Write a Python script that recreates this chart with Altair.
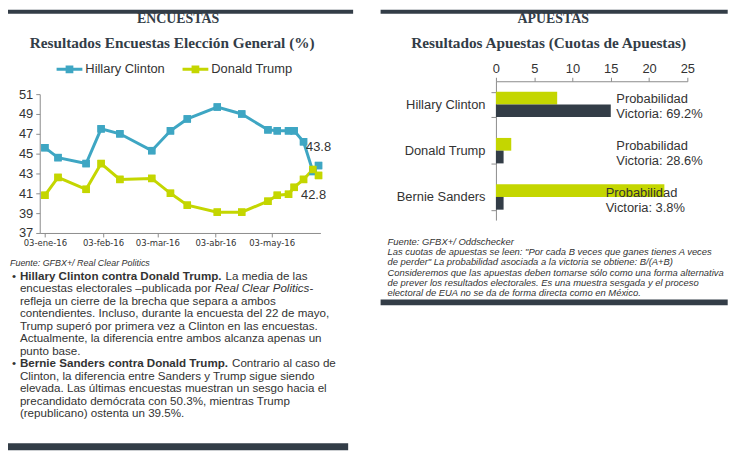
import altair as alt
import pandas as pd

# ---------------- data ----------------
fechas = ["2016-01-03", "2016-01-10", "2016-01-25", "2016-02-02", "2016-02-12", "2016-02-29",
          "2016-03-10", "2016-03-19", "2016-04-04", "2016-04-17", "2016-05-01", "2016-05-06",
          "2016-05-12", "2016-05-15", "2016-05-20", "2016-05-25", "2016-05-28"]
clinton = [45.6, 44.6, 44.0, 47.5, 47.0, 45.3, 47.3, 48.5, 49.7, 49.0, 47.4, 47.3,
           47.3, 47.3, 46.2, 43.2, 43.8]
trump = [40.8, 42.6, 41.4, 44.0, 42.4, 42.5, 41.0, 39.8, 39.1, 39.1, 40.2, 40.8,
         40.9, 41.6, 42.4, 43.4, 42.8]
series_enc = ["Hillary Clinton", "Donald Trump"]
meses_es = ["ene", "feb", "mar", "abr", "may", "jun"]
tick_meses = [1, 2, 3, 4, 5]
y_ticks = [37, 39, 41, 43, 45, 47, 49, 51]

candidatos = ["Hillary Clinton", "Donald Trump", "Bernie Sanders"]
cuota_a = [8, 2, 22]
cuota_b = [15, 1, 1]
prob_victoria = [69.2, 28.6, 3.8]
x_ticks_ap = [0, 5, 10, 15, 20, 25]

texto_izq_1 = ["refleja un cierre de la brecha que separa a ambos",
               "contendientes. Incluso, durante la encuesta del 22 de mayo,",
               "Trump superó por primera vez a Clinton en las encuestas.",
               "Actualmente, la diferencia entre ambos alcanza apenas un",
               "punto base."]
texto_izq_2 = ["Clinton, la diferencia entre Sanders y Trump sigue siendo",
               "elevada. Las últimas encuestas muestran un sesgo hacia el",
               "precandidato demócrata con 50.3%, mientras Trump",
               "(republicano) ostenta un 39.5%."]
texto_der = ["Fuente: GFBX+/ Oddschecker",
             "Las cuotas de apuestas se leen: \"Por cada B veces que ganes tienes A veces",
             "de perder\" La probabilidad asociada a la victoria se obtiene: B/(A+B)",
             "Consideremos que las apuestas deben tomarse sólo como una forma alternativa",
             "de prever los resultados electorales. Es una muestra sesgada y el proceso",
             "electoral de EUA no se da de forma directa como en México."]

# ---------------- style ----------------
SANS = "Liberation Sans"
NARROW = "Liberation Sans Narrow, DejaVu Sans Condensed, Liberation Sans"
SERIF = "Liberation Serif"
BLUE = "#3ea6c3"
GREEN = "#c4d600"
DARK = "#333d47"
TXT = "#333333"
AXIS = "#8c8c8c"

REG = {' ': 278, '.': 278, ',': 278, '-': 333, '–': 556, '(': 333, ')': 333, '%': 889,
       'a': 556, 'b': 556, 'c': 500, 'd': 556, 'e': 556, 'f': 278, 'g': 556, 'h': 556,
       'i': 222, 'j': 222, 'k': 500, 'l': 222, 'm': 833, 'n': 556, 'o': 556, 'p': 556,
       'q': 556, 'r': 333, 's': 500, 't': 278, 'u': 556, 'v': 500, 'w': 722, 'x': 500,
       'y': 500, 'z': 500, 'R': 722, 'C': 722, 'P': 667, 'L': 556}
BOLD = {' ': 278, '.': 278, 'a': 556, 'b': 611, 'c': 556, 'd': 611, 'e': 556, 'i': 278,
        'l': 278, 'm': 889, 'n': 611, 'o': 611, 'p': 611, 'r': 389, 's': 556, 't': 333,
        'u': 611, 'y': 556, 'B': 722, 'C': 722, 'D': 722, 'H': 722, 'S': 667, 'T': 611}


def width(s, table, size):
    return sum(table.get(ch, 556) for ch in s) * size / 1000.0


ONE = pd.DataFrame({"k": [0]})


def txt(s, x, y, size=12.0, font=SANS, weight="normal", style="normal", color=TXT,
        align="left", line_height=None):
    mk = dict(font=font, fontSize=size, fontWeight=weight, fontStyle=style, color=color,
              align=align, baseline="middle")
    if line_height:
        mk["lineHeight"] = line_height
    return alt.Chart(ONE).mark_text(**mk).encode(
        x=alt.value(x), y=alt.value(y), text=alt.value(s))


def band(x1, x2, y1, y2):
    return alt.Chart(ONE).mark_rect(color=DARK).encode(
        x=alt.value(x1), x2=alt.value(x2), y=alt.value(y1), y2=alt.value(y2))


# ---------------- left panel: line chart ----------------
df_enc = pd.DataFrame({
    "fecha": fechas + fechas,
    "valor": clinton + trump,
    "serie": [series_enc[0]] * len(fechas) + [series_enc[1]] * len(fechas),
})

label_expr = ("utcFormat(datum.value, '%d') + '-' + " + str(meses_es) +
              "[utcmonth(datum.value)] + '-' + utcFormat(datum.value, '%y')")

x_enc = alt.X("fecha:T", title=None,
              scale=alt.Scale(type="utc",
                              domain=[alt.DateTime(year=2015, month=12, date=31, hours=6, utc=True),
                                      alt.DateTime(year=2016, month=5, date=29, utc=True)]),
              axis=alt.Axis(values=[alt.DateTime(year=2016, month=m, date=3, utc=True) for m in tick_meses],
                            labelExpr=label_expr, labelFont=NARROW, labelFontSize=9.5,
                            labelColor=TXT, tickSize=4, labelPadding=1, domainColor=AXIS,
                            tickColor=AXIS, grid=False, labelFlush=False, labelOverlap=False))
y_enc = alt.Y("valor:Q", title=None,
              scale=alt.Scale(domain=[37, 51], nice=False, zero=False),
              axis=alt.Axis(values=y_ticks, labelFont=SANS, labelFontSize=13, labelColor=TXT,
                            tickSize=4, labelPadding=3, domainColor=AXIS, tickColor=AXIS,
                            grid=False))
col_scale = alt.Scale(domain=series_enc, range=[BLUE, GREEN])
LEG_PATH = "M-1,-0.115H1V0.115H-1Z M-0.3,-0.3H0.3V0.3H-0.3Z"
color_leg = alt.Color("serie:N", scale=col_scale, sort=series_enc,
                      legend=alt.Legend(orient="none", legendX=17, legendY=-38,
                                        direction="horizontal", title=None,
                                        symbolType=LEG_PATH, symbolSize=676,
                                        symbolStrokeWidth=0, symbolOpacity=1,
                                        labelFont=SANS, labelFontSize=13, labelColor=TXT,
                                        labelOffset=3, columnPadding=17, padding=0,
                                        symbolOffset=0))
color_nol = alt.Color("serie:N", scale=col_scale, sort=series_enc, legend=None)

base = alt.Chart(df_enc)
sq1 = base.mark_square(size=56, opacity=1).encode(x=x_enc, y=y_enc, color=color_leg)
ln = base.mark_line(strokeWidth=3).encode(x=x_enc, y=y_enc, color=color_nol)
sq2 = base.mark_square(size=56, opacity=1).encode(x=x_enc, y=y_enc, color=color_nol)

df_last = pd.DataFrame({"fecha": [fechas[-1], fechas[-1]],
                        "valor": [clinton[-1], trump[-1]],
                        "serie": series_enc})
lab_c = alt.Chart(df_last).transform_filter(alt.datum.serie == series_enc[0]).mark_text(
    font=SANS, fontSize=13, color=TXT, dy=-19, dx=0).encode(
    x=x_enc, y=y_enc, text=alt.Text("valor:Q", format=".1f"))
lab_t = alt.Chart(df_last).transform_filter(alt.datum.serie == series_enc[1]).mark_text(
    font=SANS, fontSize=13, color=TXT, dy=20, dx=-5).encode(
    x=x_enc, y=y_enc, text=alt.Text("valor:Q", format=".1f"))

FS = 11.7
X0 = -20
Y0 = 183
LH = 12.6
b1 = "Hillary Clinton contra Donald Trump."
b2 = "Bernie Sanders contra Donald Trump."
pre2 = "encuestas electorales –publicada por "
ital2 = "Real Clear Politics"
sp = width(" ", REG, FS)

left_texts = [
    band(-32, 316, -85, -81),
    txt("ENCUESTAS", 139.5, -75.5, size=14, font=SERIF, weight="bold", color=DARK, align="center"),
    txt("Resultados Encuestas Elección General (%)", 133.5, -52, size=15.4, font=SERIF,
        weight="bold", color=DARK, align="center"),
    txt("Fuente: GFBX+/ Real Clear Politics", -30, 170, size=9, style="italic"),
    txt("•", -26, Y0, size=FS, align="center"),
    txt(b1, X0, Y0, size=FS, weight="bold"),
    txt("La media de las", X0 + width(b1, BOLD, FS) + sp, Y0, size=FS),
    txt(pre2.strip(), X0, Y0 + LH, size=FS),
    txt(ital2, X0 + width(pre2, REG, FS), Y0 + LH, size=FS, style="italic"),
    txt("-", X0 + width(pre2, REG, FS) + width(ital2, REG, FS), Y0 + LH, size=FS),
    txt(texto_izq_1, X0, Y0 + LH * 2, size=FS, line_height=LH),
    txt("•", -26, Y0 + LH * 7, size=FS, align="center"),
    txt(b2, X0, Y0 + LH * 7, size=FS, weight="bold"),
    txt("Contrario al caso de", X0 + width(b2, BOLD, FS) + sp, Y0 + LH * 7, size=FS),
    txt(texto_izq_2, X0, Y0 + LH * 8, size=FS, line_height=LH),
    band(-32, 311, 352, 359),
]

left = alt.layer(sq1, ln, sq2, lab_c, lab_t, *left_texts).properties(width=283, height=140)

# ---------------- right panel: bar chart ----------------
# plot origin shares the left panel's row; the bar area spans 13px above it
TOP = -13
df_ap = pd.DataFrame({
    "candidato": candidatos + candidatos,
    "tipo": ["A"] * len(candidatos) + ["B"] * len(candidatos),
    "cuota": cuota_a + cuota_b,
})
y_scale = alt.Scale(domain=candidatos, range=[TOP, 127], paddingInner=0.45, paddingOuter=0.225)
y_cat = alt.Y("candidato:N", sort=candidatos, title=None, scale=y_scale,
              axis=alt.Axis(tickBand="extent", tickSize=5, labelPadding=6, labelFont=SANS,
                            labelFontSize=13, labelColor=TXT, domainColor=AXIS,
                            tickColor=AXIS, grid=False))
bars = alt.Chart(df_ap).mark_bar().encode(
    y=y_cat,
    yOffset=alt.YOffset("tipo:N", sort=["A", "B"]),
    x=alt.X("cuota:Q", title=None, scale=alt.Scale(domain=[0, 25], nice=False),
            axis=alt.Axis(orient="top", values=x_ticks_ap, tickSize=4, labelPadding=2,
                          labelFont=SANS, labelFontSize=13, labelColor=TXT, offset=-TOP,
                          domainColor=AXIS, tickColor=AXIS, grid=False, labelFlush=False)),
    color=alt.Color("tipo:N", scale=alt.Scale(domain=["A", "B"], range=[GREEN, DARK]),
                    legend=None),
)

df_prob = pd.DataFrame({"candidato": candidatos, "prob": prob_victoria})
lbl_calc = "['Probabilidad', 'Victoria: ' + format(datum.prob, '.1f') + '%']"


def ann(names, xpos, dy):
    return alt.Chart(df_prob).transform_filter(
        alt.FieldOneOfPredicate(field="candidato", oneOf=names)
    ).transform_calculate(lbl=lbl_calc).mark_text(
        font=SANS, fontSize=13, color=TXT, align="left", baseline="middle", lineHeight=15, dy=dy
    ).encode(y=alt.Y("candidato:N", sort=candidatos, scale=y_scale), x=alt.value(xpos),
             text="lbl:N")


right_texts = [
    band(-116.3, 233.7, -85, -81),
    txt("APUESTAS", 57.7, -75.5, size=14, font=SERIF, weight="bold", color=DARK, align="center"),
    txt("Resultados Apuestas (Cuotas de Apuestas)", 53.2, -51.5, size=15.4, font=SERIF,
        weight="bold", color=DARK, align="center"),
    txt(texto_der, -109.3, 149, size=9.5, style="italic", line_height=10.3),
    band(-116.3, 233.7, 207, 213),
]

right = alt.layer(bars, ann(candidatos[:1], 121.4, -5.3), ann(candidatos[1:2], 121.4, -5),
                  ann(candidatos[2:], 110.7, -4), *right_texts).properties(width=193, height=127)

chart = alt.hconcat(left, right, spacing=27).resolve_scale(color="independent").properties(
    padding={"left": 0, "top": 0, "right": 0, "bottom": 0}
).configure_view(strokeWidth=0)

chart.save("out.html", embed_options={"renderer": "svg", "actions": False})
